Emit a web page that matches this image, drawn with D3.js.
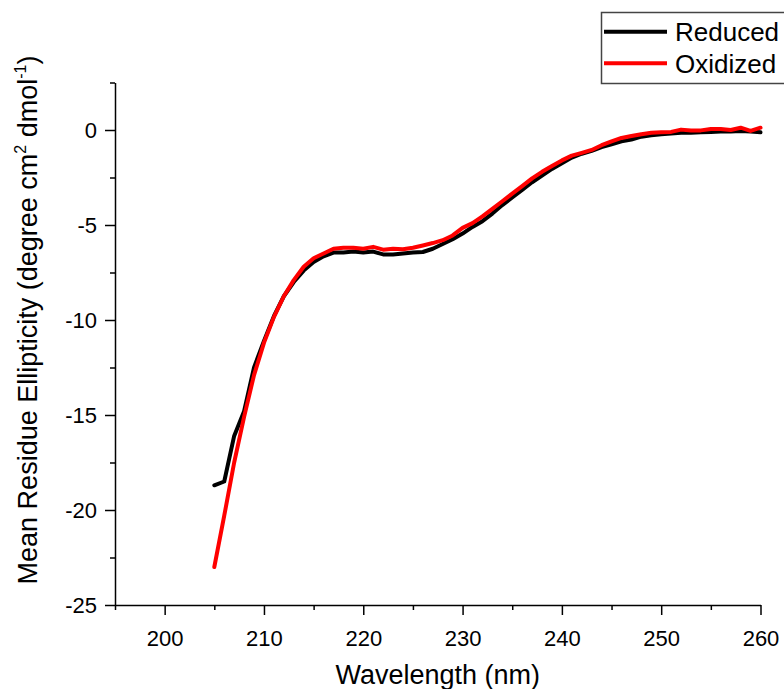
<!DOCTYPE html>
<html>
<head>
<meta charset="utf-8">
<script src="https://cdn.jsdelivr.net/npm/d3@7"></script>
<style>
  body { margin: 0; background: #fff; }
  svg { display: block; font-family: "Liberation Sans", Arial, sans-serif; }
  .axis path, .axis line { stroke: #000; stroke-width: 1.5; }
  .axis text { font-size: 22px; fill: #000; }
</style>
</head>
<body>
<svg id="chart" width="784" height="689"></svg>
<script>
// CD spectra
var wavelength = [205, 206, 207, 208, 209, 210, 211, 212, 213, 214, 215, 216, 217, 218, 219,
  220, 221, 222, 223, 224, 225, 226, 227, 228, 229, 230, 231, 232, 233, 234, 235, 236, 237,
  238, 239, 240, 241, 242, 243, 244, 245, 246, 247, 248, 249, 250, 251, 252, 253, 254, 255,
  256, 257, 258, 259, 260];

var reduced = [-18.7, -18.5, -16.1, -14.8, -12.5, -11.1, -9.8, -8.75, -8.0, -7.4, -6.95, -6.65,
  -6.45, -6.45, -6.4, -6.45, -6.4, -6.55, -6.55, -6.5, -6.45, -6.42, -6.25, -6.0, -5.75, -5.45,
  -5.1, -4.8, -4.4, -3.95, -3.55, -3.15, -2.75, -2.4, -2.05, -1.75, -1.45, -1.25, -1.1, -0.9,
  -0.75, -0.6, -0.5, -0.35, -0.28, -0.22, -0.18, -0.15, -0.14, -0.12, -0.1, -0.08, -0.08,
  -0.05, -0.08, -0.12];

var oxidized = [-23.0, -20.3, -17.5, -15.1, -12.9, -11.2, -9.85, -8.75, -7.9, -7.2, -6.75, -6.5,
  -6.25, -6.2, -6.2, -6.25, -6.15, -6.3, -6.25, -6.28, -6.2, -6.08, -5.95, -5.8, -5.55, -5.15,
  -4.9, -4.55, -4.15, -3.75, -3.35, -2.95, -2.55, -2.2, -1.9, -1.6, -1.35, -1.2, -1.05, -0.8,
  -0.6, -0.42, -0.32, -0.22, -0.15, -0.12, -0.1, 0.02, -0.03, -0.02, 0.05, 0.05, 0.0, 0.12,
  -0.05, 0.12];

var xTicks = [200, 210, 220, 230, 240, 250, 260];
var xMinor = [195, 205, 215, 225, 235, 245, 255];
var yTicks = [0, -5, -10, -15, -20, -25];
var yMinor = [2.5, -2.5, -7.5, -12.5, -17.5, -22.5];

var series = [
  { name: "Reduced", values: reduced, color: "#000" },
  { name: "Oxidized", values: oxidized, color: "#f00" }
];

var svg = d3.select("#chart");
var plotL = 115, plotR = 760.5, plotT = 82.5, plotB = 605;

var x = d3.scaleLinear().domain([195, 260]).range([plotL, plotR]);
var y = d3.scaleLinear().domain([-25, 2.5]).range([plotB, plotT]);

// x axis
svg.append("g")
    .attr("class", "axis")
    .attr("transform", "translate(0," + plotB + ")")
    .call(d3.axisBottom(x).tickValues(xTicks).tickSize(10).tickSizeOuter(0).tickPadding(15));
svg.append("g")
    .attr("class", "axis")
    .attr("transform", "translate(0," + plotB + ")")
    .call(d3.axisBottom(x).tickValues(xMinor).tickSize(5).tickFormat(""))
  .call(g => g.select(".domain").remove());

// y axis (plain hyphen for negatives, like the original)
svg.append("g")
    .attr("class", "axis")
    .attr("transform", "translate(" + plotL + ",0)")
    .call(d3.axisLeft(y).tickValues(yTicks).tickSize(10).tickSizeOuter(0).tickPadding(8)
      .tickFormat(d => String(d)));
svg.append("g")
    .attr("class", "axis")
    .attr("transform", "translate(" + plotL + ",0)")
    .call(d3.axisLeft(y).tickValues(yMinor).tickSize(5).tickFormat(""))
  .call(g => g.select(".domain").remove());

// lines
var line = d3.line()
    .x((d, i) => x(wavelength[i]))
    .y(d => y(d));

svg.selectAll(".series")
  .data(series)
  .enter()
  .append("path")
    .attr("class", "series")
    .attr("fill", "none")
    .attr("stroke", d => d.color)
    .attr("stroke-width", 4)
    .attr("stroke-linejoin", "round")
    .attr("stroke-linecap", "round")
    .attr("d", d => line(d.values));

// axis titles
svg.append("text")
    .attr("x", (plotL + plotR) / 2)
    .attr("y", 684)
    .attr("text-anchor", "middle")
    .attr("font-size", 27)
    .text("Wavelength (nm)");

var yt = svg.append("text")
    .attr("transform", "translate(37,320) rotate(-90)")
    .attr("text-anchor", "middle")
    .attr("font-size", 27);
yt.append("tspan").text("Mean Residue Ellipticity (degree cm");
yt.append("tspan").attr("font-size", 16).attr("dy", -11).text("2");
yt.append("tspan").attr("dy", 11).text(" dmol");
yt.append("tspan").attr("font-size", 16).attr("dy", -11).text("-1");
yt.append("tspan").attr("dy", 11).text(")");

// legend
var legend = svg.append("g");
legend.append("rect")
    .attr("x", 601.5).attr("y", 12.5)
    .attr("width", 200).attr("height", 71)
    .attr("fill", "#fff")
    .attr("stroke", "#444")
    .attr("stroke-width", 1.5);

var item = legend.selectAll(".item")
  .data(series)
  .enter()
  .append("g")
    .attr("transform", (d, i) => "translate(0," + (31.7 + i * 31.6) + ")");
item.append("line")
    .attr("x1", 604).attr("x2", 667)
    .attr("stroke", d => d.color)
    .attr("stroke-width", 4);
item.append("text")
    .attr("x", 675)
    .attr("dy", "0.36em")
    .attr("font-size", 26)
    .text(d => d.name);
</script>
</body>
</html>
